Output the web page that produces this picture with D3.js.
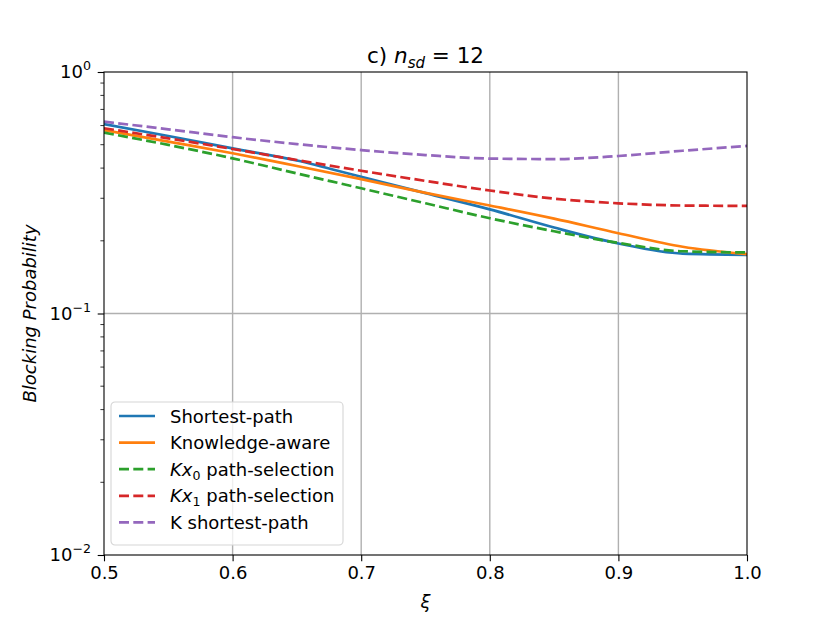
<!DOCTYPE html>
<html>
<head>
<meta charset="utf-8">
<script src="https://cdn.jsdelivr.net/npm/d3@7"></script>
<style>
  body { margin: 0; background: #fff; }
  svg { font-family: "DejaVu Sans", sans-serif; }
</style>
</head>
<body>
<div id="chart"></div>
<script>
const width = 830;
const height = 623;

// xi values and blocking probabilities
const xi = [0.5, 0.55, 0.6, 0.65, 0.7, 0.75, 0.8, 0.85, 0.9, 0.95, 1.0];
const shortestPath = [0.609, 0.543, 0.483, 0.430, 0.368, 0.315, 0.270, 0.227, 0.195, 0.177, 0.175];
const knowledgeAware = [0.575, 0.515, 0.461, 0.408, 0.360, 0.316, 0.280, 0.247, 0.215, 0.189, 0.176];
const kx0 = [0.561, 0.499, 0.439, 0.380, 0.330, 0.286, 0.248, 0.219, 0.196, 0.181, 0.179];
const kx1 = [0.585, 0.531, 0.480, 0.432, 0.390, 0.354, 0.323, 0.299, 0.286, 0.280, 0.279];
const kShortest = [0.623, 0.579, 0.537, 0.503, 0.475, 0.453, 0.438, 0.436, 0.449, 0.472, 0.494];

const xTicks = [0.5, 0.6, 0.7, 0.8, 0.9, 1.0];
const yTicks = [1e-2, 1e-1, 1e0];
const yExps = ["−2", "−1", "0"];

const series = [
  { name: "Shortest-path", values: shortestPath, color: "#1f77b4", dash: null },
  { name: "Knowledge-aware", values: knowledgeAware, color: "#ff7f0e", dash: null },
  { name: "Kx0", sub: "0", values: kx0, color: "#2ca02c", dash: "10,4.3" },
  { name: "Kx1", sub: "1", values: kx1, color: "#d62728", dash: "10,4.3" },
  { name: "K shortest-path", values: kShortest, color: "#9467bd", dash: "10,4.3" }
];

const margin = { left: 104, right: 83, top: 72, bottom: 68 };
const x0 = margin.left, x1 = width - margin.right;
const y0 = height - margin.bottom, y1 = margin.top;

const svg = d3.select("#chart").append("svg")
  .attr("width", width)
  .attr("height", height);

const x = d3.scaleLinear().domain([0.5, 1.0]).range([x0, x1]);
const y = d3.scaleLog().domain([1e-2, 1]).range([y0, y1]);

// grid
svg.append("g").selectAll("line.vg")
  .data(xTicks.slice(1, -1))
  .enter().append("line")
  .attr("x1", d => x(d)).attr("x2", d => x(d))
  .attr("y1", y0).attr("y2", y1)
  .attr("stroke", "#b0b0b0").attr("stroke-width", 1.4);
svg.append("g").selectAll("line.hg")
  .data([1e-1])
  .enter().append("line")
  .attr("x1", x0).attr("x2", x1)
  .attr("y1", d => y(d)).attr("y2", d => y(d))
  .attr("stroke", "#b0b0b0").attr("stroke-width", 1.4);

// curves
svg.append("clipPath").attr("id", "clip")
  .append("rect").attr("x", x0).attr("y", y1).attr("width", x1 - x0).attr("height", y0 - y1);

const line = d3.line()
  .x((d, i) => x(xi[i]))
  .y(d => y(d))
  .curve(d3.curveMonotoneX);

svg.append("g").attr("clip-path", "url(#clip)")
  .selectAll("path")
  .data(series)
  .enter().append("path")
  .attr("d", d => line(d.values))
  .attr("fill", "none")
  .attr("stroke", d => d.color)
  .attr("stroke-width", 2.7)
  .attr("stroke-dasharray", d => d.dash);

// x axis
const xAxis = d3.axisBottom(x).tickValues(xTicks).tickFormat(d3.format(".1f"))
  .tickSize(6.3).tickPadding(5);
const gx = svg.append("g").attr("transform", `translate(0,${y0})`).call(xAxis);
gx.select(".domain").remove();
gx.selectAll(".tick line").attr("stroke", "#000").attr("stroke-width", 1.1);
gx.selectAll(".tick text").attr("font-size", 18).attr("fill", "#000")
  .attr("font-family", "DejaVu Sans");

// y axis major
const yAxis = d3.axisLeft(y).tickValues(yTicks).tickFormat("").tickSize(6.3);
const gy = svg.append("g").attr("transform", `translate(${x0},0)`).call(yAxis);
gy.select(".domain").remove();
gy.selectAll(".tick line").attr("stroke", "#000").attr("stroke-width", 1.1);

// y minor ticks
const minor = [];
[1e-2, 1e-1].forEach(b => { for (let k = 2; k <= 9; k++) minor.push(b * k); });
svg.append("g").selectAll("line")
  .data(minor)
  .enter().append("line")
  .attr("x1", x0 - 3.6).attr("x2", x0)
  .attr("y1", d => y(d)).attr("y2", d => y(d))
  .attr("stroke", "#000").attr("stroke-width", 0.8);

// y tick labels 10^k
const yl = svg.append("g").selectAll("text")
  .data(yTicks)
  .enter().append("text")
  .attr("x", 91)
  .attr("y", d => y(d) + 6)
  .attr("text-anchor", "end")
  .attr("font-size", 18);
yl.append("tspan").text("10");
yl.append("tspan").attr("dy", -8).attr("font-size", 12.6).text((d, i) => yExps[i]);

// frame
svg.append("rect")
  .attr("x", x0).attr("y", y1).attr("width", x1 - x0).attr("height", y0 - y1)
  .attr("fill", "none").attr("stroke", "#000").attr("stroke-width", 1.1);

// title
const title = svg.append("text")
  .attr("x", (x0 + x1) / 2).attr("y", 63)
  .attr("text-anchor", "middle").attr("font-size", 21.5);
title.append("tspan").text("c) ");
title.append("tspan").attr("font-style", "italic").text("n");
title.append("tspan").attr("font-style", "italic").attr("font-size", 15).attr("dy", 4.5).text("sd");
title.append("tspan").attr("dy", -4.5).text(" = 12");

// axis labels
svg.append("text")
  .attr("x", (x0 + x1) / 2).attr("y", 608)
  .attr("text-anchor", "middle").attr("font-size", 18).attr("font-style", "italic")
  .text("ξ");
svg.append("text")
  .attr("transform", `translate(36,${(y0 + y1) / 2}) rotate(-90)`)
  .attr("text-anchor", "middle").attr("font-size", 18).attr("font-style", "italic")
  .text("Blocking Probability");

// legend
const lg = svg.append("g").attr("transform", "translate(111,402)");
lg.append("rect")
  .attr("width", 232).attr("height", 143).attr("rx", 4)
  .attr("fill", "#fff").attr("fill-opacity", 0.8)
  .attr("stroke", "#d5d5d5").attr("stroke-width", 1.1);
const items = lg.selectAll("g.item")
  .data(series)
  .enter().append("g")
  .attr("transform", (d, i) => `translate(0,${14 + i * 26.6})`);
items.append("line")
  .attr("x1", 8).attr("x2", 44)
  .attr("stroke", d => d.color).attr("stroke-width", 2.7)
  .attr("stroke-dasharray", d => d.dash ? "10,4.3" : null);
const lt = items.append("text")
  .attr("x", 59).attr("y", 6.5).attr("font-size", 18);
lt.each(function (d) {
  const t = d3.select(this);
  if (d.sub) {
    t.append("tspan").attr("font-style", "italic").text("Kx");
    t.append("tspan").attr("font-size", 12.6).attr("dy", 4).text(d.sub);
    t.append("tspan").attr("dy", -4).text(" path-selection");
  } else {
    t.text(d.name);
  }
});
</script>
</body>
</html>
